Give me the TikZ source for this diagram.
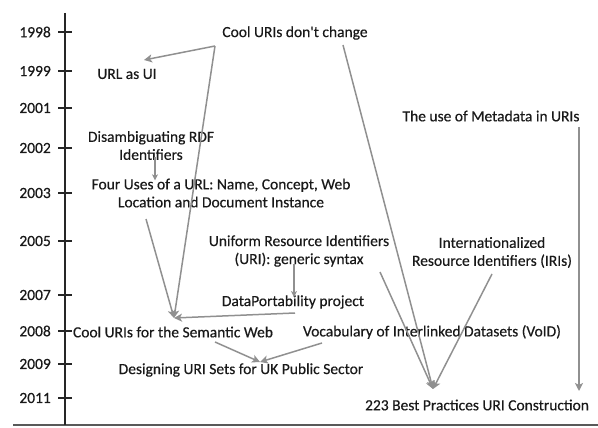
\documentclass[tikz,border=0pt]{standalone}
\usepackage{fontspec}
\setmainfont{Carlito}[Ligatures=TeXOff, FakeBold=0.4]
\usetikzlibrary{arrows.meta}
\definecolor{conngray}{HTML}{909090}
\tikzset{
  lbl/.style={font=\fontsize{15.5}{18}\selectfont, inner sep=0pt, align=center, text=black!90},
  yr/.style={font=\fontsize{15.5}{18}\selectfont, inner sep=0pt, anchor=east, text=black!90},
  conn/.style={draw=conngray, line width=1.5pt, -{Stealth[length=8pt,width=8pt,inset=2pt]}},
  tickline/.style={line width=1.5pt, black!85},
}
\begin{document}
\begin{tikzpicture}[x=1pt,y=-1pt]
\useasboundingbox (0,0) rectangle (598,428);
% axis
\coordinate (axtop) at (65,13);
\coordinate (axbot) at (65,425);
\coordinate (baseL) at (13,425);
\coordinate (baseR) at (598,425);
\draw[line width=1.2pt, black!65] (baseL) -- (baseR);
\draw[line width=1.7pt, black!85] (axtop) -- (axbot);
\foreach \yy/\lab in {32/1998, 71/1999, 108/2001, 148/2002, 193/2003, 241/2005, 295/2007, 331/2008, 364/2009, 398/2011}{
  \coordinate (t\lab) at (65,\yy);
  \draw[tickline] ([xshift=-7pt]t\lab) -- ([xshift=7pt]t\lab);
  \node[yr] (y\lab) at (51,\yy) {\lab};
}
% labels
\node[lbl] (cool) at (295,33) {Cool URIs don't change};
\node[lbl] (url) at (127,74) {URL as UI};
\node[lbl] (meta) at (491,116) {The use of Metadata in URIs};
\node[lbl] (disamb) at (151,145.5) {Disambiguating RDF\\Identifiers};
\node[lbl] (four) at (221,193) {Four Uses of a URL: Name, Concept, Web\\Location and Document Instance};
\node[lbl] (uri) at (299,251) {Uniform Resource Identifiers\\(URI): generic syntax};
\node[lbl] (iri) at (492,252.5) {Internationalized\\Resource Identifiers (IRIs)};
\node[lbl] (dp) at (293,302) {DataPortability project};
\node[lbl] (csw) at (173,332) {Cool URIs for the Semantic Web};
\node[lbl] (void) at (432,332) {Vocabulary of Interlinked Datasets (VoID)};
\node[lbl] (uk) at (241,370) {Designing URI Sets for UK Public Sector};
\node[lbl] (best) at (477,405) {223 Best Practices URI Construction};
% connector points
\coordinate (coolA) at (215,46);
\coordinate (coolB) at (343,45);
\coordinate (urlT) at (144,60);
\coordinate (cswT) at (174,318);
\coordinate (fourA) at (146,219);
\coordinate (dpA) at (295,313);
\coordinate (cswA) at (215,342);
\coordinate (voidA) at (322,343);
\coordinate (ukT) at (260,362);
\coordinate (uriA) at (380,272);
\coordinate (iriA) at (492,274);
\coordinate (bestT) at (433,389);
\coordinate (metaA) at (579,127);
\coordinate (metaT) at (579,391);
% connectors
\draw[conn] (coolA) -- (urlT);
\draw[conn] (coolA) -- (cswT);
\draw[conn] (fourA) -- (cswT);
\draw[conn] (dpA) -- (cswT);
\draw[conn] (cswA) -- (ukT);
\draw[conn] (voidA) -- (ukT);
\draw[conn] (coolB) -- (bestT);
\draw[conn] (uriA) -- (bestT);
\draw[conn] (iriA) -- (bestT);
\draw[conn] (metaA) -- (metaT);
\draw[conn, line width=1.2pt, -{Stealth[length=6pt,width=6pt,inset=1.5pt]}] ([yshift=3pt]disamb.south -| 155,0) -- ([yshift=-2pt]four.north -| 155,0);
\draw[conn, line width=1.2pt, -{Stealth[length=6pt,width=6pt,inset=1.5pt]}] ([yshift=3pt]uri.south -| 294,0) -- ([yshift=-2pt]dp.north -| 294,0);
\end{tikzpicture}
\end{document}
